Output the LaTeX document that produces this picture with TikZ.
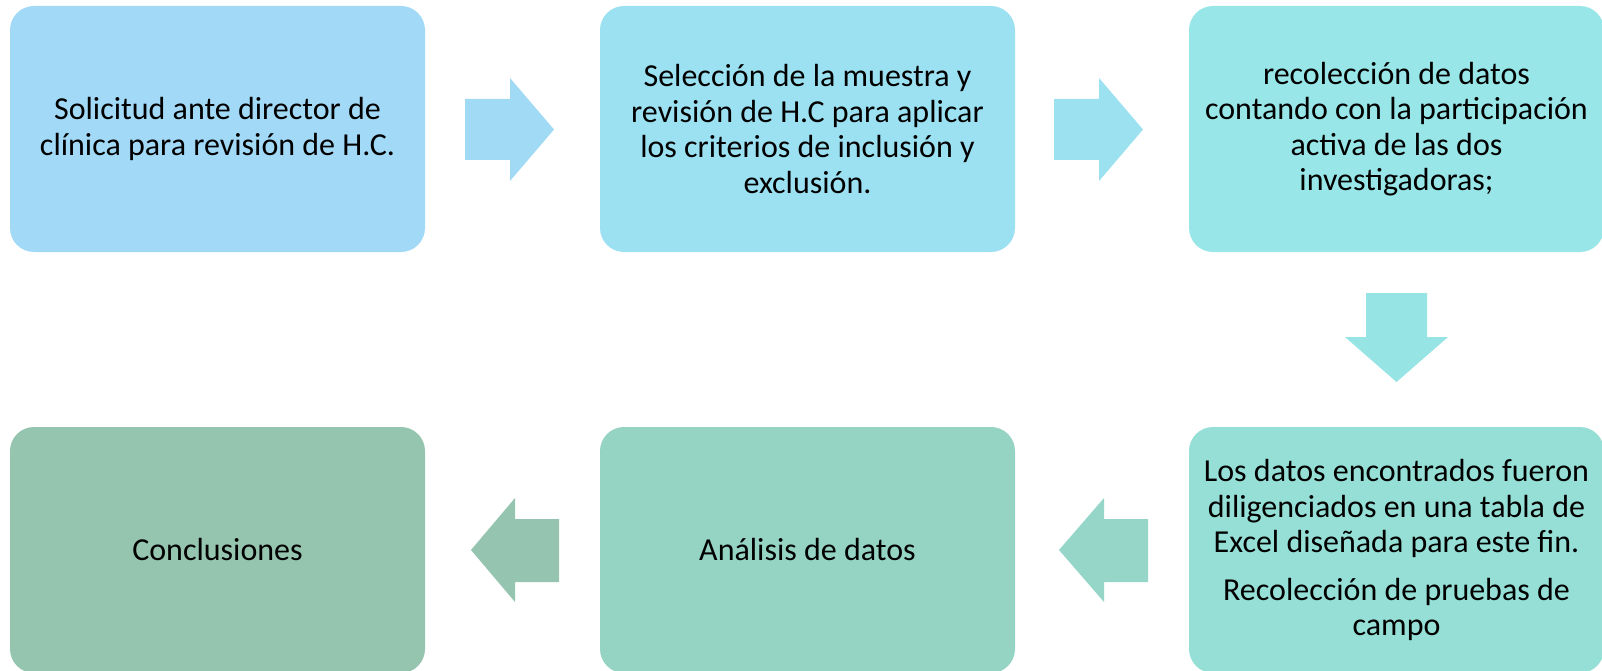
\documentclass[tikz,border=0pt]{standalone}
\usepackage{fontspec}
\setmainfont{Carlito}
\definecolor{cA}{HTML}{A2D9F7}
\definecolor{cB}{HTML}{9CE1F2}
\definecolor{cC}{HTML}{98E6E8}
\definecolor{cD}{HTML}{95DFD6}
\definecolor{cE}{HTML}{95D3C3}
\definecolor{cF}{HTML}{95C4AF}
\definecolor{aA}{HTML}{A0DAF5}
\definecolor{aB}{HTML}{9BE1EF}
\definecolor{aC}{HTML}{96E4E3}
\definecolor{aD}{HTML}{95D6C9}
\definecolor{aE}{HTML}{95C5B0}
\tikzset{
  stepbox/.style={rectangle, rounded corners=24pt, minimum width=415pt, minimum height=246pt,
    inner sep=0pt, align=center, font=\fontsize{32pt}{35.5pt}\selectfont, text=black},
}
\begin{document}
\begin{tikzpicture}[x=1pt,y=-1pt]
\useasboundingbox (0,0) rectangle (1602,671);
\clip (0,0) rectangle (1602,671);
% boxes
\node[stepbox, fill=cA] (b1) at (217.5,129) {Solicitud ante director de\\clínica para revisión de H.C.};
\node[stepbox, fill=cB] (b2) at (807.5,129) {Selección de la muestra y\\revisión de H.C para aplicar\\los criterios de inclusión y\\exclusión.};
\node[stepbox, fill=cC] (b3) at (1396.5,129) {recolección de datos\\contando con la participación\\activa de las dos\\investigadoras;};
\node[stepbox, fill=cD] (b4) at (1396.5,550) {Los datos encontrados fueron\\diligenciados en una tabla de\\Excel diseñada para este fin.\\[12pt]Recolección de pruebas de\\campo};
\node[stepbox, fill=cE] (b5) at (807.5,550) {Análisis de datos};
\node[stepbox, fill=cF] (b6) at (217.5,550) {Conclusiones};
% block arrows
\fill[aA] (465,99) -- (510,99) -- (510,78) -- (554,129.5) -- (510,181) -- (510,160) -- (465,160) -- cycle;
\fill[aB] (1054,99) -- (1099,99) -- (1099,78) -- (1143,129.5) -- (1099,181) -- (1099,160) -- (1054,160) -- cycle;
\fill[aC] (1366,293) -- (1427,293) -- (1427,337) -- (1448,337) -- (1396.5,382) -- (1345,337) -- (1366,337) -- cycle;
\fill[aD] (1148,519) -- (1104,519) -- (1104,498) -- (1059,550) -- (1104,602) -- (1104,582) -- (1148,582) -- cycle;
\fill[aE] (559,519) -- (515,519) -- (515,498) -- (471,550) -- (515,602) -- (515,582) -- (559,582) -- cycle;
\end{tikzpicture}
\end{document}
